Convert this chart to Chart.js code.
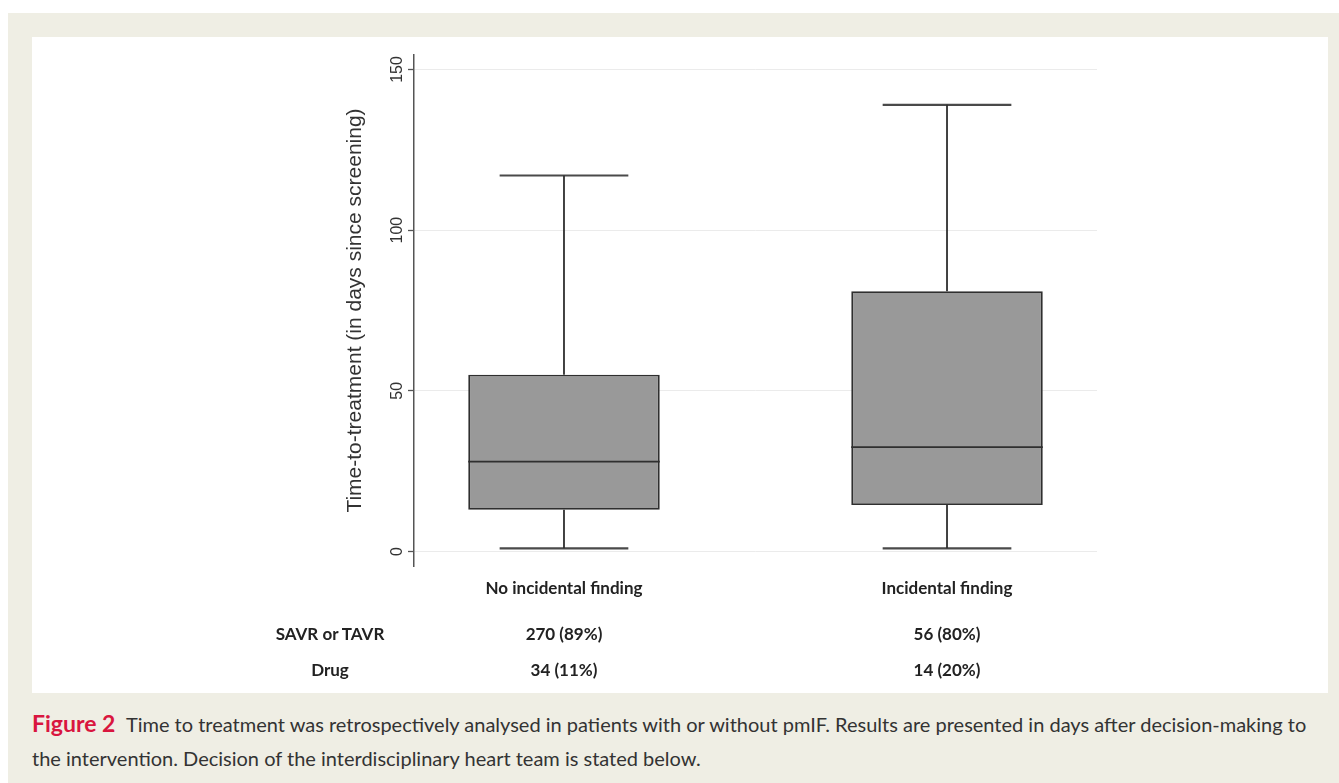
<!DOCTYPE html>
<html>
<head>
<meta charset="utf-8">
<title>Time to treatment</title>
<script src="https://cdn.jsdelivr.net/npm/chart.js@4.4.0/dist/chart.umd.min.js"></script>
<style>
body { margin: 0; background: #fff; font-family: Lato, sans-serif; }
.frame { position: absolute; left: 8px; top: 13px; width: 1331px; height: 770px; background: #efeee4; }
.panel { position: absolute; left: 24px; top: 24px; width: 1296px; height: 656px; background: #fff; }
#chart { position: absolute; left: 0; top: 0; }
.cell { position: absolute; transform: translate(-50%, -50%); font-weight: 700; font-size: 17px; color: #222; white-space: nowrap; }
.caption { position: absolute; left: 24px; top: 693px; width: 1305px; font-size: 20px; line-height: 34px; color: #333; white-space: nowrap; }
.caption b { color: #d9163f; font-size: 23px; margin-right: 6px; }
</style>
</head>
<body>
<div class="frame">
  <div class="panel" id="panel">
    <canvas id="chart" width="1296" height="656"></canvas>
  </div>
  <div class="caption"><b>Figure 2</b> Time to treatment was retrospectively analysed in patients with or without pmIF. Results are presented in days after decision-making to<br>the intervention. Decision of the interdisciplinary heart team is stated below.</div>
</div>
<script>
// box plot values (days)
const groups = ['No incidental finding', 'Incidental finding'];
const groupPos = [1, 2];
const whiskerLow = [1, 1];
const q1 = [13, 14.5];
const median = [28, 32.5];
const q3 = [55, 81];
const whiskerHigh = [117, 139];
const yTicks = [0, 50, 100, 150];

// decision of the heart team, table under the plot
const rowLabels = ['SAVR or TAVR', 'Drug'];
const savrOrTavr = ['270 (89%)', '56 (80%)'];
const drug = ['34 (11%)', '14 (20%)'];

// styling
const boxWidth = 0.5;
const capHalf = 0.168;
const lineCol = '#2f2f2f';

Chart.defaults.font.family = '"Liberation Sans", Arial, sans-serif';

var boxSet = {
  type: 'bar',
  data: groupPos.map(function (p, i) { return { x: p, y: [q1[i], q3[i]] }; }),
  backgroundColor: '#999999',
  borderColor: lineCol,
  borderWidth: 1.8,
  borderSkipped: false,
  grouped: false,
  categoryPercentage: 1,
  barPercentage: boxWidth,
  order: 2
};

var whiskerPts = [], capPts = [], medianPts = [];
groupPos.forEach(function (p, i) {
  whiskerPts.push({ x: p, y: q3[i] }, { x: p, y: whiskerHigh[i] }, { x: p, y: null });
  whiskerPts.push({ x: p, y: whiskerLow[i] }, { x: p, y: q1[i] }, { x: p, y: null });
  capPts.push({ x: p - capHalf, y: whiskerHigh[i] }, { x: p + capHalf, y: whiskerHigh[i] }, { x: p, y: null });
  capPts.push({ x: p - capHalf, y: whiskerLow[i] }, { x: p + capHalf, y: whiskerLow[i] }, { x: p, y: null });
  medianPts.push({ x: p - boxWidth / 2, y: median[i] }, { x: p + boxWidth / 2, y: median[i] }, { x: p, y: null });
});

function segLine(pts, col, w, ord) {
  return { type: 'line', data: pts, borderColor: col, borderWidth: w, pointRadius: 0, spanGaps: false, fill: false, order: ord };
}

var ctx = document.getElementById('chart').getContext('2d');
var chart = new Chart(ctx, {
  type: 'bar',
  data: {
    datasets: [
      boxSet,
      segLine(whiskerPts, lineCol, 1.8, 3),
      segLine(capPts, '#4a4a4a', 2.2, 3),
      segLine(medianPts, lineCol, 1.8, 1)
    ]
  },
  options: {
    responsive: false,
    animation: false,
    layout: { padding: { left: 311, right: 231, top: 18, bottom: 0 } },
    plugins: { legend: { display: false }, tooltip: { enabled: false } },
    scales: {
      x: {
        type: 'linear',
        offset: false,
        min: 0.6084,
        max: 2.3916,
        grid: { display: false, drawTicks: false },
        border: { display: false },
        afterBuildTicks: function (s) { s.ticks = groupPos.map(function (v) { return { value: v }; }); },
        afterFit: function (s) { s.height = 127; },
        ticks: {
          padding: 12,
          maxRotation: 0,
          autoSkip: false,
          color: '#222',
          font: { family: 'Lato', weight: 'bold', size: 17 },
          callback: function (v, i) { return groups[i]; }
        }
      },
      y: {
        min: -4.5,
        max: 154.5,
        afterBuildTicks: function (s) { s.ticks = yTicks.map(function (v) { return { value: v }; }); },
        afterFit: function (s) { s.width = 71; },
        grid: { color: '#ebebeb', lineWidth: 1, tickLength: 6, tickColor: '#555', tickWidth: 1.3 },
        border: { display: true, color: '#555', width: 1.5 },
        ticks: { color: '#333', font: { size: 16 }, minRotation: 90, maxRotation: 90, crossAlign: 'center', padding: -3 },
        title: { display: true, text: 'Time-to-treatment (in days since screening)', color: '#333', font: { size: 21 }, padding: 0 }
      }
    }
  }
});

// table rows under the category labels
var panel = document.getElementById('panel');
var rowY = [596, 632];
[savrOrTavr, drug].forEach(function (vals, r) {
  var lab = document.createElement('div');
  lab.className = 'cell';
  lab.style.left = '298px';
  lab.style.top = rowY[r] + 'px';
  lab.textContent = rowLabels[r];
  panel.appendChild(lab);
  vals.forEach(function (t, i) {
    var d = document.createElement('div');
    d.className = 'cell';
    d.style.left = chart.scales.x.getPixelForValue(groupPos[i]) + 'px';
    d.style.top = rowY[r] + 'px';
    d.textContent = t;
    panel.appendChild(d);
  });
});
</script>
</body>
</html>
